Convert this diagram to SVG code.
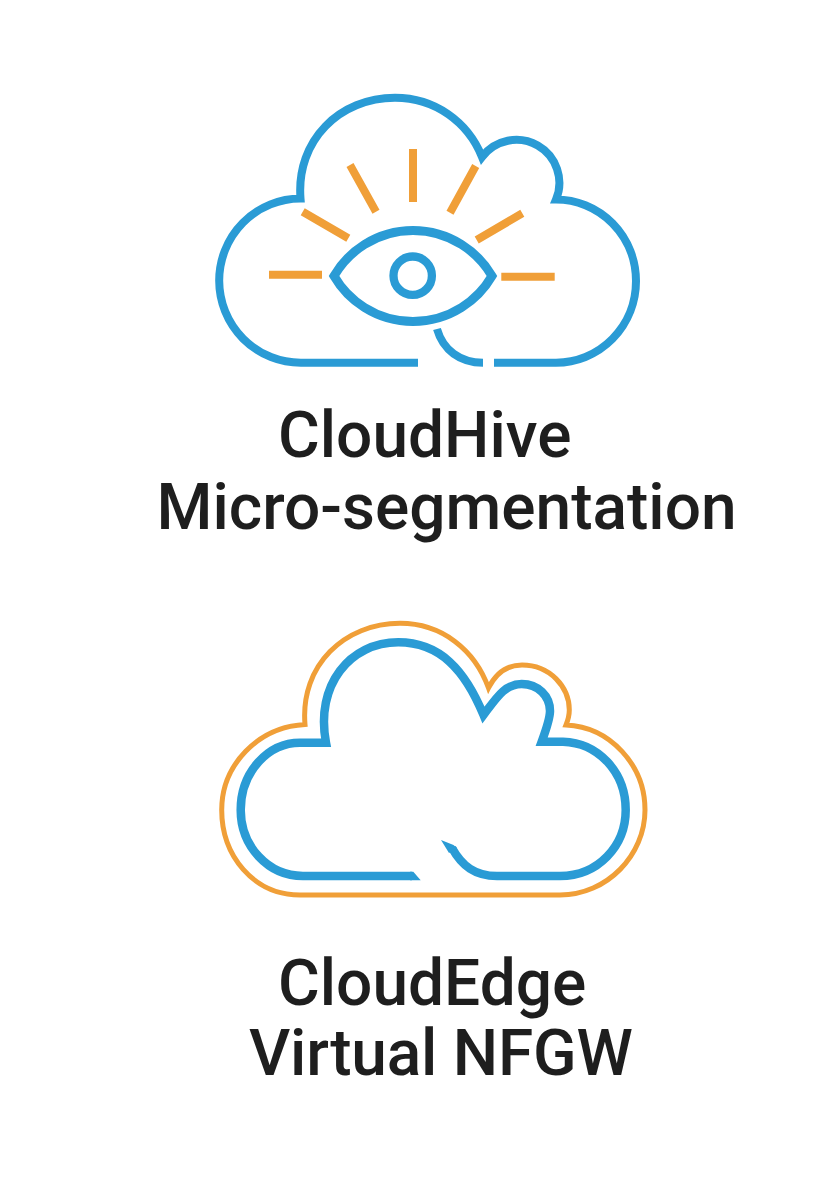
<svg xmlns="http://www.w3.org/2000/svg" width="839" height="1198" viewBox="0 0 839 1198">
<style>
.b{fill:none;stroke:#2a9bd5;stroke-width:8;stroke-miterlimit:10}
.o{fill:none;stroke:#f09f38;stroke-width:8}
.t{font-family:Roboto,"Liberation Sans",sans-serif;font-weight:500;font-size:64px;fill:#1e1e1e}
</style>
<rect width="839" height="1198" fill="#fff"/>
<g id="cloudhive">
<path class="b" d="M418 362.700H301A81.500 82 0 0 1 300.500 198.500C296 140 340 97.800 395 97.800C435 97.800 468 122 482 157A43 43 0 0 1 556 199.500A80 81.600 0 0 1 556 362.700H494"/>
<path class="b" d="M483 362.700C460 362.700 443 350 437 329"/>
<path class="b" style="stroke-width:9" d="M334 276A91.400 91.400 0 0 1 492 276A91.400 91.400 0 0 1 334 276Z"/>
<circle class="b" cx="412.700" cy="275.700" r="19.200" style="stroke-width:8.300"/>
<g id="rays"><path class="o" d="M413 149V202M350 165L376 211.700M475.700 166L450 212.700M302.700 211.700L348.300 238.300M522.300 213.300L476.700 240M269 274.700H322M501.300 276.700H554.700"/></g>
<text class="t" x="278" y="457">CloudHive</text>
<text class="t" x="156.500" y="529">Micro-segmentation</text>
</g>
<g id="cloudedge">
<path class="o" style="stroke-width:5" d="M300 895C253 895 221.700 855 221.700 810C221.700 765 258 727 305 724.500C300 665 345 623.300 400 623.300C442 623.300 475 650 488.500 688C496 673 508 665 522 665C550 665 569.300 687 569.300 710C569.300 715 568 720 566 725C610 727 645 765 645 810C645 855 607 895 560 895Z"/>
<path class="b" style="stroke-width:8.500" d="M412 876H303C268 876 240.700 846 240.700 810C240.700 772 268 742.700 300 742.700H326C315 685 350 642.300 398.300 642.300C440 642.300 465 670 483.500 715C497 697 505 684 521.700 684C538 684 550 696 550 711C550 718 546 730 541.700 741.700H563C598 742.700 625.700 772 625.700 810C625.700 846 598 876 560 876H497C475 876 462 866 452 848"/>
<path fill="#2a9bd5" d="M441 840L453.500 845L457 848L449 853ZM410 871.750H413.300L420.700 880.250H410Z"/>
<text class="t" x="278" y="1005">CloudEdge</text>
<text class="t" x="249" y="1075" letter-spacing="-0.2">Virtual NFGW</text>
</g>
</svg>
